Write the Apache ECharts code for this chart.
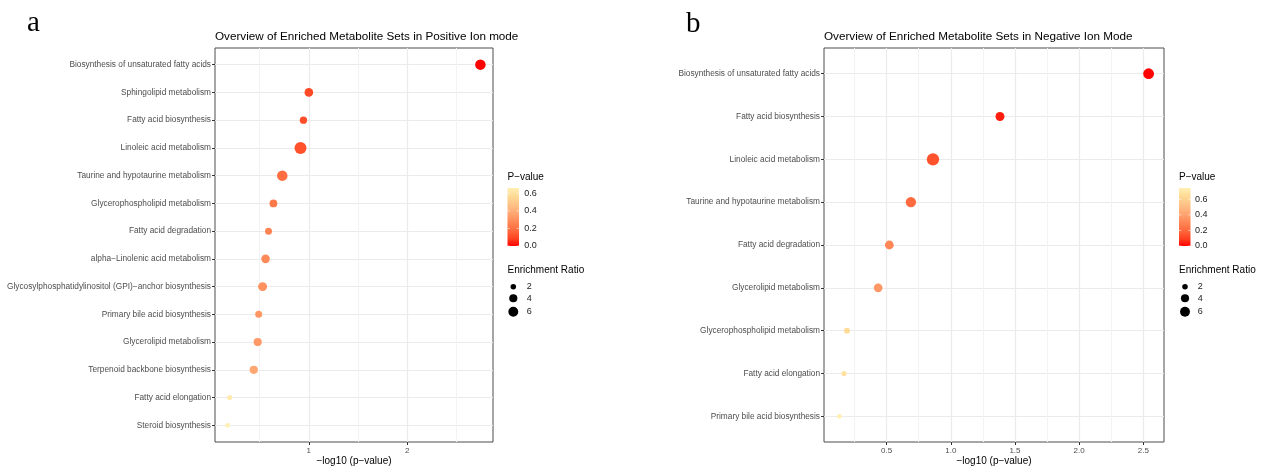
<!DOCTYPE html>
<html><head><meta charset="utf-8">
<script src="https://cdn.jsdelivr.net/npm/echarts@6/dist/echarts.min.js"></script>
<style>html,body{margin:0;padding:0;background:#fff}#c{width:1266px;height:468px}</style>
</head><body><div id="c"></div>
<script>
// ---------- Panel a : positive ion mode ----------
const catsA = [
  'Biosynthesis of unsaturated fatty acids',
  'Sphingolipid metabolism',
  'Fatty acid biosynthesis',
  'Linoleic acid metabolism',
  'Taurine and hypotaurine metabolism',
  'Glycerophospholipid metabolism',
  'Fatty acid degradation',
  'alpha\u2212Linolenic acid metabolism',
  'Glycosylphosphatidylinositol (GPI)\u2212anchor biosynthesis',
  'Primary bile acid biosynthesis',
  'Glycerolipid metabolism',
  'Terpenoid backbone biosynthesis',
  'Fatty acid elongation',
  'Steroid biosynthesis'
];
const logPA   = [2.744, 1.00, 0.945, 0.915, 0.73, 0.64, 0.59, 0.56, 0.53, 0.49, 0.48, 0.44, 0.195, 0.174];
const ratioA  = [6.8, 4.5, 3.3, 9.0, 6.8, 3.7, 3.0, 4.5, 4.9, 3.0, 4.1, 4.1, 1.8, 1.6];
const pA      = [0.0018, 0.10, 0.114, 0.12, 0.19, 0.23, 0.26, 0.28, 0.30, 0.32, 0.33, 0.37, 0.64, 0.67];
const xTicksA = [1, 2];
const xMinorA = [0.5, 1.5, 2.5];

// ---------- Panel b : negative ion mode ----------
const catsB = [
  'Biosynthesis of unsaturated fatty acids',
  'Fatty acid biosynthesis',
  'Linoleic acid metabolism',
  'Taurine and hypotaurine metabolism',
  'Fatty acid degradation',
  'Glycerolipid metabolism',
  'Glycerophospholipid metabolism',
  'Fatty acid elongation',
  'Primary bile acid biosynthesis'
];
const logPB   = [2.541, 1.383, 0.861, 0.689, 0.521, 0.434, 0.191, 0.168, 0.132];
const ratioB  = [7.2, 4.9, 9.5, 6.5, 4.7, 4.6, 2.2, 1.8, 1.6];
const pB      = [0.0029, 0.041, 0.138, 0.204, 0.30, 0.363, 0.644, 0.679, 0.738];
const xTicksB = [0.5, 1.0, 1.5, 2.0, 2.5];
const xMinorB = [0.25, 0.75, 1.25, 1.75, 2.25];

// legend breaks
const pTicks = [0.0, 0.2, 0.4, 0.6];
const ratioTicks = [2, 4, 6];

// ---------- styling ----------
const gradColors = ['#FF0000', '#FF4220', '#FF653A', '#FF8050', '#FF9A68', '#FFB27C', '#FFC98C', '#FFDD98', '#FFEFB4'];
const SANS = '"Liberation Sans", Arial, sans-serif';
function sizeOf(r) { return 2.0 * (1 + 5 * Math.sqrt(Math.max(r - 1, 0) / 8)); }

const panels = [
  { cats: catsA, x: logPA, r: ratioA, p: pA, ticks: xTicksA, minor: xMinorA, min: 0.046, max: 2.872,
    grid: { left: 215, right: 1266 - 493, top: 48, bottom: 468 - 442 }, pMax: 0.66, fmt: v => String(v),
    title: 'Overview of Enriched Metabolite Sets in Positive Ion mode',
    leg: { x: 507.5, cx: 513.3, lx: 524.3, slx: 526.7 }, letter: 'a', letterX: 27, letterY: 24 },
  { cats: catsB, x: logPB, r: ratioB, p: pB, ticks: xTicksB, minor: xMinorB, min: 0.012, max: 2.661,
    grid: { left: 824, right: 1266 - 1164, top: 48, bottom: 468 - 442 }, pMax: 0.745, fmt: v => v.toFixed(1),
    title: 'Overview of Enriched Metabolite Sets in Negative Ion Mode',
    leg: { x: 1179, cx: 1185, lx: 1195, slx: 1197.7 }, letter: 'b', letterX: 686, letterY: 25 }
];

const grids = [], xAxes = [], yAxes = [], series = [], visualMaps = [], titles = [], graphics = [];
panels.forEach((P, k) => {
  grids.push(Object.assign({ show: true, borderColor: '#4d4d4d', borderWidth: 1, backgroundColor: '#fff',
    containLabel: false, outerBoundsMode: 'none' }, P.grid));
  // main x axis (major ticks / labels / major grid)
  xAxes.push({
    gridIndex: k, type: 'value', min: P.min, max: P.max, position: 'bottom',
    axisLine: { show: false, onZero: false },
    axisTick: { show: true, customValues: P.ticks, length: 3, lineStyle: { color: '#333' } },
    axisLabel: { customValues: P.ticks, formatter: P.fmt, fontSize: 8, color: '#4D4D4D', margin: 5, fontFamily: SANS },
    splitLine: { show: true, lineStyle: { color: '#EBEBEB', width: 1.2 } },
    name: '\u2212log10 (p\u2212value)', nameLocation: 'middle', nameGap: 14, nameMoveOverlap: false,
    nameTextStyle: { fontSize: 10, color: '#000', fontFamily: SANS }
  });
  // overlay x axis for minor grid
  xAxes.push({
    gridIndex: k, type: 'value', min: P.min, max: P.max, position: 'bottom',
    axisLine: { show: false, onZero: false },
    axisTick: { show: false, customValues: P.minor },
    axisLabel: { show: false, customValues: P.minor },
    splitLine: { show: true, lineStyle: { color: '#F3F3F3', width: 1 } }
  });
  const idx = P.cats.map((c, i) => i);
  yAxes.push({
    gridIndex: k, type: 'value', inverse: true, min: -0.6, max: P.cats.length - 0.4,
    axisLine: { show: false, onZero: false },
    axisTick: { show: true, customValues: idx, length: 3, lineStyle: { color: '#333' } },
    axisLabel: { customValues: idx, formatter: v => P.cats[Math.round(v)], fontSize: 8.3, color: '#4D4D4D', margin: 4, fontFamily: SANS },
    splitLine: { show: true, lineStyle: { color: '#EBEBEB', width: 1.2 } }
  });
  series.push({
    type: 'scatter', xAxisIndex: k * 2, yAxisIndex: k, z: 5,
    data: P.cats.map((c, i) => [P.x[i], i, P.r[i], P.p[i]]),
    symbolSize: v => sizeOf(v[2]),
    itemStyle: { opacity: 1 }
  });
  visualMaps.push({
    type: 'continuous', show: false, seriesIndex: k, dimension: 3, min: 0, max: P.pMax,
    inRange: { color: gradColors }
  });
  titles.push({
    text: P.title, left: P.grid.left, top: 31, padding: 0,
    textStyle: { fontSize: 11.7, fontWeight: 'normal', color: '#000', fontFamily: SANS }
  });
  // panel letter
  graphics.push({ type: 'text', left: P.letterX, top: P.letterY - 15,
    style: { text: P.letter, font: '29px "Liberation Serif", "Times New Roman", serif', fill: '#000' } });
  // colour bar legend
  const L = P.leg, barBottom = 246, barH = 58, barW = 11.5;
  graphics.push({ type: 'text', x: L.x, y: 177.3,
    style: { text: 'P\u2212value', font: '10px ' + SANS, fill: '#000', textVerticalAlign: 'middle', verticalAlign: 'middle' } });
  graphics.push({ type: 'rect', shape: { x: L.x, y: barBottom - barH, width: barW, height: barH },
    style: { fill: { type: 'linear', x: 0, y: 1, x2: 0, y2: 0,
      colorStops: gradColors.map((c, i) => ({ offset: i / (gradColors.length - 1), color: c })) } } });
  pTicks.forEach(t => {
    const y = barBottom - t / P.pMax * barH;
    graphics.push({ type: 'line', shape: { x1: L.x, y1: y, x2: L.x + 2.3, y2: y }, style: { stroke: '#fff', lineWidth: 0.6 } });
    graphics.push({ type: 'line', shape: { x1: L.x + barW - 2.3, y1: y, x2: L.x + barW, y2: y }, style: { stroke: '#fff', lineWidth: 0.6 } });
    graphics.push({ type: 'text', x: L.lx, y: y,
      style: { text: t.toFixed(1), font: '9px ' + SANS, fill: '#222', verticalAlign: 'middle', textVerticalAlign: 'middle' } });
  });
  // size legend
  graphics.push({ type: 'text', x: L.x, y: 270.7,
    style: { text: 'Enrichment Ratio', font: '10px ' + SANS, fill: '#000', verticalAlign: 'middle', textVerticalAlign: 'middle' } });
  const sy = [286.7, 298.3, 311.7];
  ratioTicks.forEach((r, i) => {
    graphics.push({ type: 'circle', shape: { cx: L.cx, cy: sy[i], r: sizeOf(r) / 2 }, style: { fill: '#000' } });
    graphics.push({ type: 'text', x: L.slx, y: sy[i],
      style: { text: String(r), font: '9px ' + SANS, fill: '#222', verticalAlign: 'middle', textVerticalAlign: 'middle' } });
  });
});

const chart = echarts.init(document.getElementById('c'), null, { renderer: 'canvas' });
chart.setOption({
  animation: false,
  backgroundColor: '#fff',
  title: titles,
  grid: grids,
  xAxis: xAxes,
  yAxis: yAxes,
  visualMap: visualMaps,
  series: series,
  graphic: graphics
});
</script>
</body></html>
